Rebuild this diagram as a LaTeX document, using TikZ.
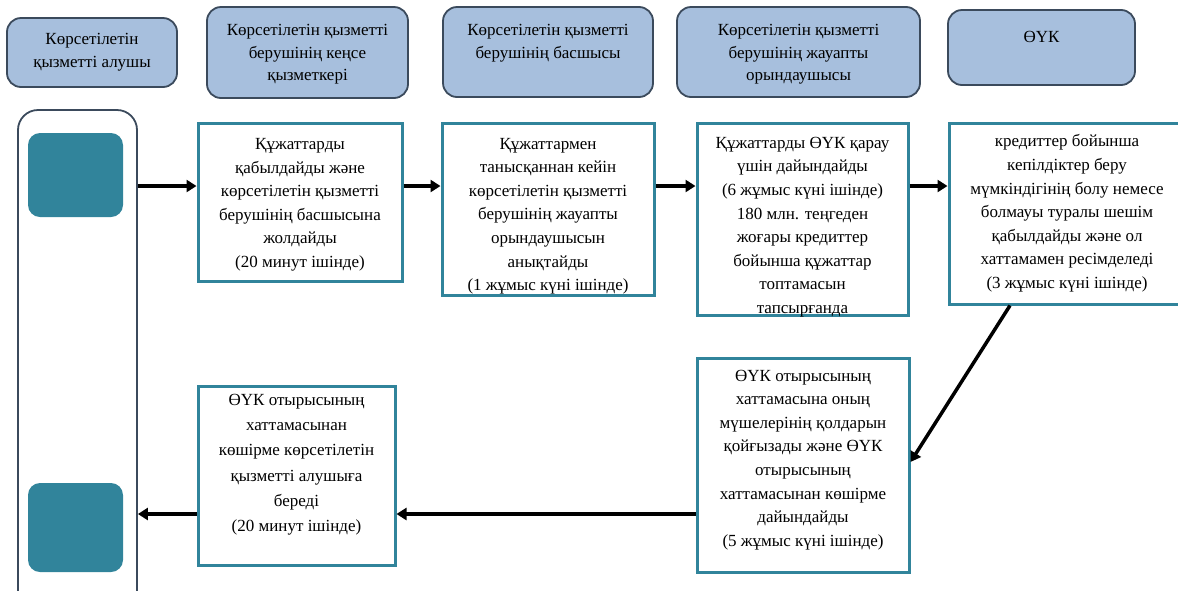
\documentclass[tikz,border=0pt]{standalone}
\usepackage{fontspec}
\setmainfont{Liberation Serif}
\usetikzlibrary{positioning,arrows.meta}
\definecolor{headfill}{HTML}{A7BFDD}
\definecolor{headline}{HTML}{3B4A5C}
\definecolor{tealbox}{HTML}{31849B}
\tikzset{
    header/.style={draw=headline, line width=1.8pt, fill=headfill, rounded corners=14pt},
    headtext/.style={align=center, inner sep=0pt, font=\fontsize{17}{22.5}\selectfont},
    stepbox/.style={draw=tealbox, line width=3pt, fill=white, align=center, inner sep=0pt,
        font=\fontsize{17}{23.6}\selectfont},
    flow/.style={line width=3.5pt, -{Triangle[length=10pt,width=12pt]}},
}
\begin{document}
\begin{tikzpicture}[x=1pt,y=-1pt]
        \useasboundingbox (0,0) rectangle (1178,590);
        \clip (0,0) rectangle (1178,590);
        %% lane headers
        \node[header, minimum width=170pt, minimum height=69pt] (h1) at (92,52.5) {};
        \node[headtext, below=16pt of h1.north] (h1t) {Көрсетілетін\\қызметті алушы};
        \node[header, minimum width=201pt, minimum height=91pt] (h2) at (307.5,52.5) {};
        \node[headtext, below=18pt of h2.north] (h2t) {Көрсетілетін қызметті\\берушінің кеңсе\\қызметкері};
        \node[header, minimum width=210pt, minimum height=90pt] (h3) at (548,52) {};
        \node[headtext, below=18pt of h3.north] (h3t) {Көрсетілетін қызметті\\берушінің басшысы};
        \node[header, minimum width=243pt, minimum height=90pt] (h4) at (798.5,52) {};
        \node[headtext, below=18pt of h4.north] (h4t) {Көрсетілетін қызметті\\берушінің жауапты\\орындаушысы};
        \node[header, minimum width=187pt, minimum height=75pt] (h5) at (1041.5,47.5) {};
        \node[headtext, below=22pt of h5.north] (h5t) {ӨҮК};
        %% service receiver lane
        \node[draw=headline, line width=1.8pt, rounded corners=20pt, minimum width=119pt,
            minimum height=520pt] (client) at (77.5,370) {};
        \node[fill=tealbox, rounded corners=12pt, minimum width=95pt, minimum height=84pt] (start) at (75.5,175) {};
        \node[fill=tealbox, rounded corners=12pt, minimum width=95pt, minimum height=89pt] (finish) at (75.5,527.5) {};
        %% steps
        \node[stepbox, minimum width=204pt, minimum height=158pt, text height=135pt, text depth=4pt] (recv) at (300,202)
            {Құжаттарды\\қабылдайды және\\көрсетілетін қызметті\\берушінің басшысына\\жолдайды\\(20 минут ішінде)};
        \node[stepbox, minimum width=212pt, minimum height=172pt, text height=167pt] (assign) at (548,209)
            {Құжаттармен\\танысқаннан кейін\\көрсетілетін қызметті\\берушінің жауапты\\орындаушысын\\анықтайды\\(1 жұмыс күні ішінде)};
        \node[stepbox, minimum width=211pt, minimum height=192pt, text height=189pt, text depth=0pt] (prep) at (802.5,219)
            {Құжаттарды ӨҮК қарау\\үшін дайындайды\\(6 жұмыс күні ішінде)\\180 млн. теңгеден\\жоғары кредиттер\\бойынша құжаттар\\топтамасын\\тапсырғанда};
        \node[stepbox, minimum width=236pt, minimum height=181pt] (decide) at (1067,213.5)
            {кредиттер бойынша\\кепілдіктер беру\\мүмкіндігінің болу немесе\\болмауы туралы шешім\\қабылдайды және ол\\хаттамамен ресімделеді\\(3 жұмыс күні ішінде)};
        \node[stepbox, minimum width=212pt, minimum height=214pt, text depth=14pt] (sign) at (803,465)
            {ӨҮК отырысының\\хаттамасына оның\\мүшелерінің қолдарын\\қойғызады және ӨҮК\\отырысының\\хаттамасынан көшірме\\дайындайды\\(5 жұмыс күні ішінде)};
        \node[stepbox, minimum width=197pt, minimum height=179pt, text height=126pt, text depth=14pt,
            font=\fontsize{17}{25.2}\selectfont] (issue) at (296.5,475.5)
            {ӨҮК отырысының\\хаттамасынан\\көшірме көрсетілетін\\қызметті алушыға\\береді\\(20 минут ішінде)};
        %% arrows
        \coordinate (row1) at (0,186);
        \coordinate (row2) at (0,514);
        \draw[flow] (client.east |- row1) -- (recv.west |- row1);
        \draw[flow] (recv.east |- row1) -- (assign.west |- row1);
        \draw[flow] (assign.east |- row1) -- (prep.west |- row1);
        \draw[flow] (prep.east |- row1) -- (decide.west |- row1);
        \draw[flow] ([xshift=-57pt]decide.south) -- ([yshift=3pt]sign.east);
        \draw[flow] (sign.west |- row2) -- (issue.east |- row2);
        \draw[flow] (issue.west |- row2) -- (client.east |- row2);
    \end{tikzpicture}
\end{document}
